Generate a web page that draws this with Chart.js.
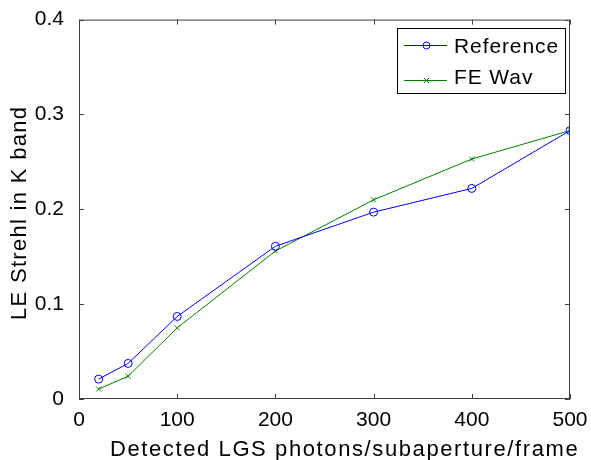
<!DOCTYPE html>
<html>
<head>
<meta charset="utf-8">
<script src="https://cdn.jsdelivr.net/npm/chart.js@4"></script>
<style>
  body { margin: 0; background: #fff; }
  #wrap { width: 591px; height: 460px; }
</style>
</head>
<body>
<div id="wrap"><canvas id="c" width="591" height="460"></canvas></div>
<script>
const photons = [20, 50, 100, 200, 300, 400, 500];
const reference = [0.021, 0.0375, 0.087, 0.161, 0.197, 0.222, 0.283];
const feWav = [0.0105, 0.024, 0.075, 0.156, 0.210, 0.253, 0.283];
const xTicks = [0, 100, 200, 300, 400, 500];
const yTicks = [0, 0.1, 0.2, 0.3, 0.4];
const xTitle = 'Detected LGS photons/subaperture/frame';
const yTitle = 'LE Strehl in K band';

const FONT = '"Liberation Sans", Arial, Helvetica, sans-serif';
const AXIS = '#404040';

// matlab style: box with inward ticks on every side, titles, legend inside the axes
const matlabBox = {
    id: 'matlabBox',
    afterDatasetsDraw(chart) {
        const { ctx, chartArea: a, scales } = chart;
        ctx.save();
        ctx.strokeStyle = AXIS;
        ctx.lineWidth = 1;
        ctx.strokeRect(a.left + 0.5, a.top + 0.5, a.right - a.left - 1, a.bottom - a.top - 1);
        ctx.beginPath();
        xTicks.forEach(v => {
            const x = Math.round(scales.x.getPixelForValue(v)) + 0.5;
            ctx.moveTo(x, a.bottom); ctx.lineTo(x, a.bottom - 5);
            ctx.moveTo(x, a.top); ctx.lineTo(x, a.top + 5);
        });
        yTicks.forEach(v => {
            const y = Math.round(scales.y.getPixelForValue(v)) + 0.5;
            ctx.moveTo(a.left, y); ctx.lineTo(a.left + 5, y);
            ctx.moveTo(a.right, y); ctx.lineTo(a.right - 5, y);
        });
        ctx.stroke();

        // axis titles
        ctx.fillStyle = '#000';
        ctx.font = '22px ' + FONT;
        ctx.letterSpacing = '1.6px';
        ctx.textBaseline = 'alphabetic';
        ctx.textAlign = 'left';
        ctx.fillText(xTitle, 110, 456);
        ctx.save();
        ctx.translate(26, 320);
        ctx.rotate(-Math.PI / 2);
        ctx.letterSpacing = '1.3px';
        ctx.fillText(yTitle, 0, 0);
        ctx.restore();

        // legend
        const bx = 397, by = 28, bw = 168, bh = 65;
        ctx.fillStyle = '#fff';
        ctx.fillRect(bx, by, bw, bh);
        ctx.strokeStyle = '#000';
        ctx.strokeRect(bx + 0.5, by + 0.5, bw, bh);
        ctx.font = '21px ' + FONT;
        ctx.letterSpacing = '0.9px';
        ctx.textBaseline = 'middle';
        chart.data.datasets.forEach((ds, i) => {
            const y = by + 17 + i * 35;
            const ty = by + 18 + i * 31.5;
            ctx.strokeStyle = ds.borderColor;
            ctx.beginPath();
            ctx.moveTo(bx + 7, y + 0.5); ctx.lineTo(bx + 50, y + 0.5);
            ctx.stroke();
            if (ds.pointStyle === 'circle') {
                ctx.beginPath();
                ctx.arc(bx + 29.5, y + 0.5, 3.5, 0, Math.PI * 2);
                ctx.stroke();
            } else {
                ctx.beginPath();
                ctx.moveTo(bx + 27, y - 2); ctx.lineTo(bx + 32, y + 3);
                ctx.moveTo(bx + 32, y - 2); ctx.lineTo(bx + 27, y + 3);
                ctx.stroke();
            }
            ctx.fillStyle = '#000';
            ctx.fillText(ds.label, bx + 57, ty + 1);
        });
        ctx.restore();
    }
};

new Chart(document.getElementById('c'), {
    type: 'line',
    data: {
        datasets: [{
            label: 'Reference',
            data: photons.map((x, i) => ({ x, y: reference[i] })),
            borderColor: '#0000ff',
            backgroundColor: 'rgba(0,0,0,0)',
            borderWidth: 1,
            pointStyle: 'circle',
            pointRadius: 4,
            pointBorderWidth: 1,
            tension: 0
        }, {
            label: 'FE Wav',
            data: photons.map((x, i) => ({ x, y: feWav[i] })),
            borderColor: '#008000',
            backgroundColor: 'rgba(0,0,0,0)',
            borderWidth: 1,
            pointStyle: 'crossRot',
            pointRadius: 3.5,
            pointBorderWidth: 1,
            tension: 0
        }]
    },
    options: {
        responsive: false,
        animation: false,
        layout: { padding: { top: 19, right: 21, left: 0, bottom: 0 } },
        plugins: { legend: { display: false }, tooltip: { enabled: false } },
        scales: {
            x: {
                type: 'linear',
                min: 0, max: 500,
                afterBuildTicks: s => { s.ticks = xTicks.map(v => ({ value: v })); },
                afterFit: s => { s.height = 61; },
                grid: { display: false },
                border: { display: false },
                ticks: { color: '#000', font: { family: FONT, size: 21 }, padding: 1, maxRotation: 0 }
            },
            y: {
                min: 0, max: 0.4,
                afterBuildTicks: s => { s.ticks = yTicks.map(v => ({ value: v })); },
                afterFit: s => { s.width = 79; },
                grid: { display: false },
                border: { display: false },
                ticks: { color: '#000', font: { family: FONT, size: 21 }, padding: 7, callback: v => String(+v.toFixed(1)) }
            }
        }
    },
    plugins: [matlabBox]
});
</script>
</body>
</html>
